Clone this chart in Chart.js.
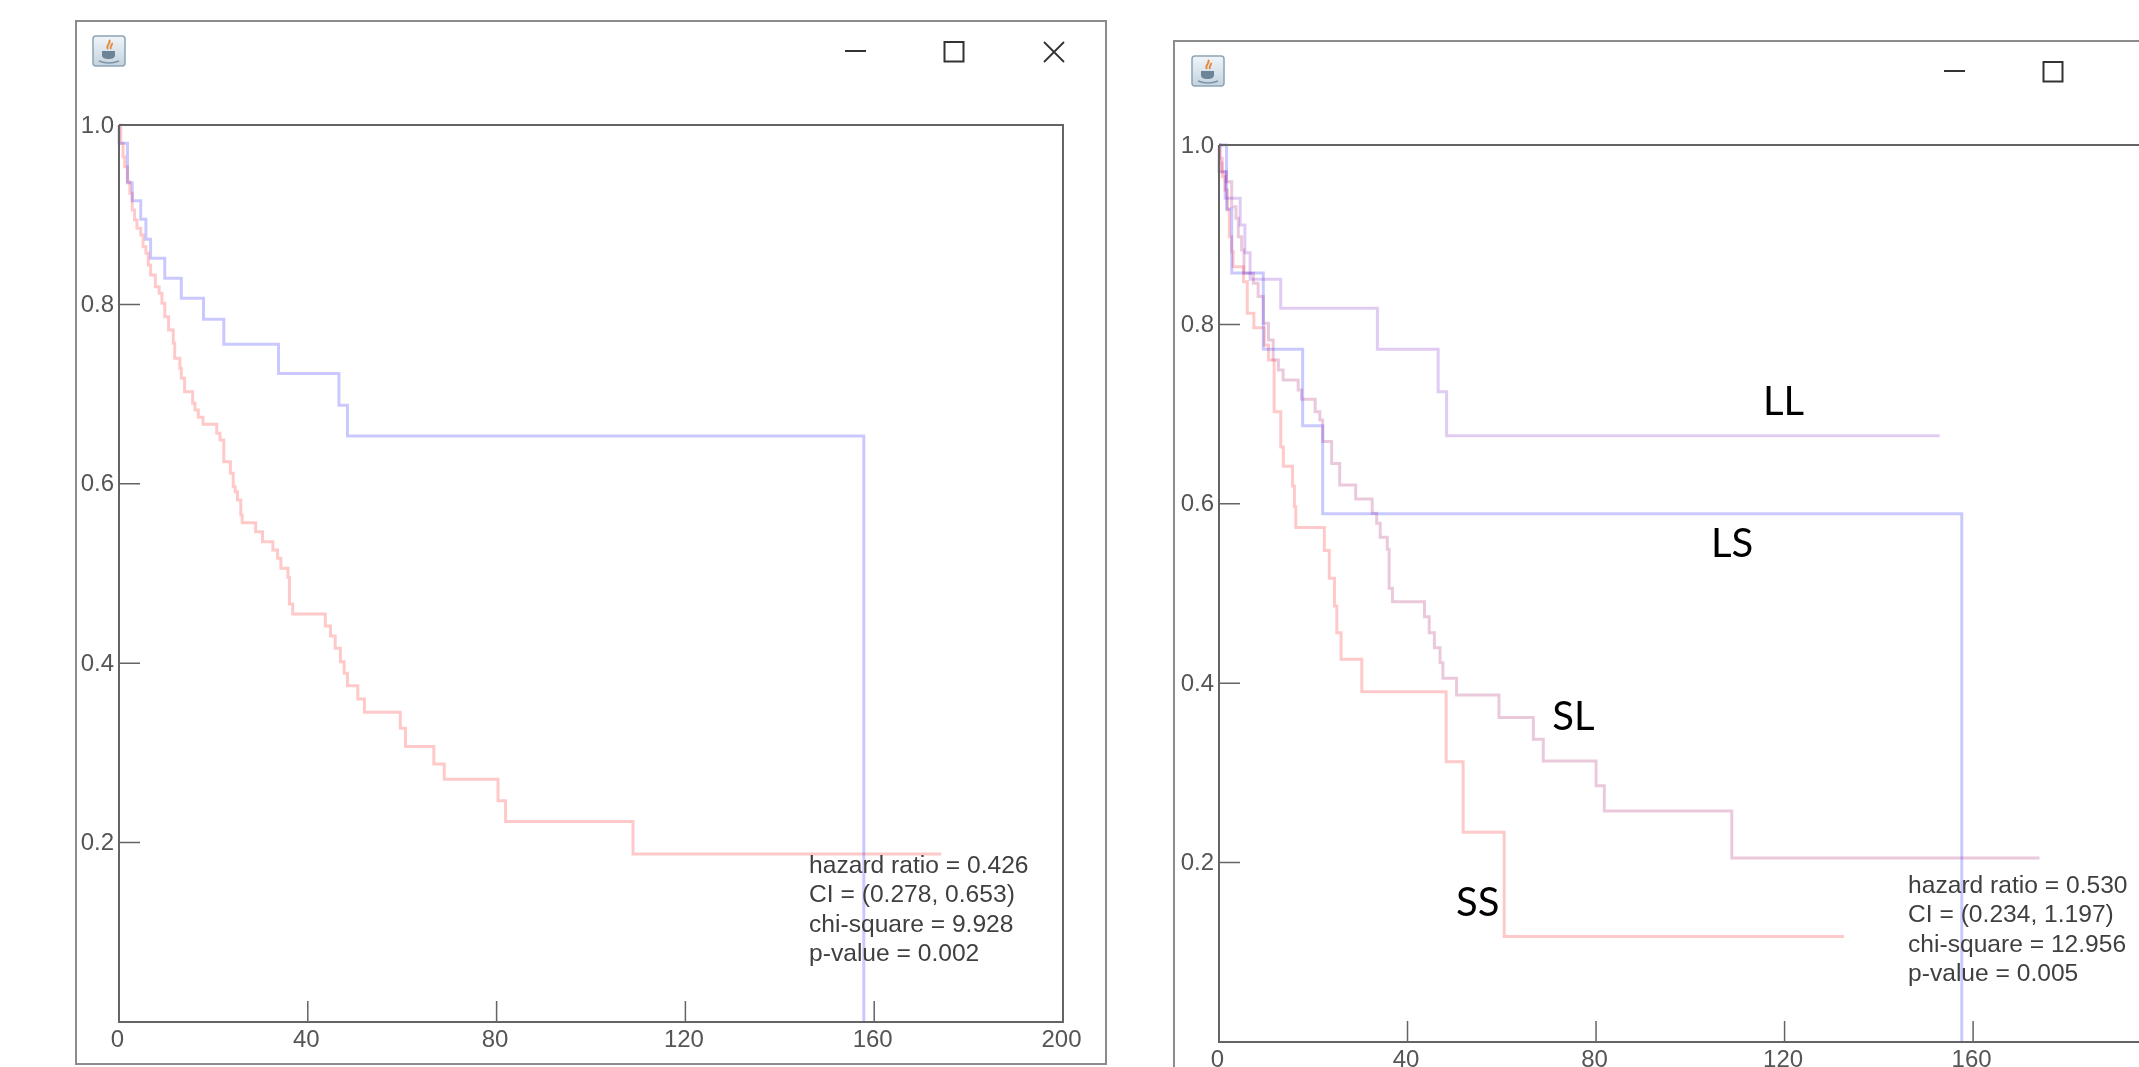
<!DOCTYPE html>
<html>
<head>
<meta charset="utf-8">
<title>Kaplan-Meier survival curves</title>
<script src="https://cdn.jsdelivr.net/npm/chart.js@4"></script>
<style>
html,body{margin:0;padding:0;background:#fff;width:2139px;height:1067px;overflow:hidden}
.win{position:absolute;border:2px solid #8c8c8c;box-sizing:border-box;background:#fff}
canvas{position:absolute;filter:blur(.45px)}
.ctl{position:absolute;overflow:visible}
</style>
</head>
<body>
<div class="win" style="left:75px;top:20px;width:1032px;height:1045px"></div>
<div class="win" style="left:1173px;top:40px;width:1000px;height:1060px"></div>
<svg class="ctl" style="left:92px;top:35px" width="34" height="32" viewBox="0 0 34 32"><use href="#javaIcon"/></svg>
<svg class="ctl" style="left:1191px;top:55px" width="34" height="32" viewBox="0 0 34 32">
  <defs>
    <linearGradient id="ig" x1="0" y1="0" x2="0" y2="1"><stop offset="0" stop-color="#f1f5f8"/><stop offset="1" stop-color="#c3d3df"/></linearGradient>
    <g id="javaIcon">
      <rect x="1" y="1" width="32" height="30" rx="3" fill="url(#ig)" stroke="#8da4b5" stroke-width="1.5"/>
      <path d="M17 5c3 3-4 5-1 9M20 8c1 2-3 3-1 6" stroke="#e58a3c" stroke-width="2" fill="none"/>
      <path d="M10 16h13v4c0 3-3 4-6.500 4s-6.500-1-6.500-4z" fill="#6d8496"/>
      <path d="M7 26c6 2.500 14 2.500 20 0" stroke="#7c93a5" stroke-width="1.500" fill="none"/>
    </g>
  </defs>
  <use href="#javaIcon"/>
</svg>
<svg class="ctl" style="left:0;top:0;pointer-events:none" width="2139" height="1067">
  <g stroke="#333" stroke-width="2" fill="none">
    <path d="M845 51H866" />
    <rect x="944.500" y="42" width="19" height="19.500"/>
    <path d="M1044 42L1064 62M1064 42L1044 62" stroke-width="1.800"/>
    <path d="M1944 71H1965" />
    <rect x="2043.500" y="62" width="19" height="19.500"/>
  </g>
</svg>
<canvas id="leftChart" width="1028" height="963" style="left:76px;top:100px"></canvas>
<canvas id="rightChart" width="964" height="947" style="left:1175px;top:120px"></canvas>
<script>
// Left panel: two groups
const leftBlueTime = [0,0,1.8,2.8,4.6,5.7,6.7,9.7,13.2,17.9,22.2,33.8,46.6,48.4,157.8];
const leftBlueSurv = [1,0.9796,0.9357,0.9156,0.8948,0.8725,0.8514,0.8291,0.8068,0.7834,0.7555,0.7231,0.6875,0.6533,0];
const leftRedTime = [0,0.35,0.85,1.2,1.8,2.3,2.8,3.3,3.8,4.6,5.1,5.7,6.2,6.7,7.7,8.5,9.1,9.7,10.5,11.5,11.8,12.9,13.2,13.9,15.6,16.1,16.8,17.8,20.7,21.4,22.2,23.6,24.2,24.6,25.1,25.8,26.1,28.95,30.4,32.6,33.6,34.3,35.8,36.1,36.8,43.7,44.8,45.8,46.9,47.7,48.4,50.6,52.0,59.6,60.7,66.7,68.9,80.3,81.9,108.9,174.2];
const leftRedSurv = [1,0.9796,0.9647,0.9535,0.9368,0.9238,0.9052,0.8941,0.8848,0.8774,0.8644,0.8569,0.8439,0.8328,0.8198,0.8123,0.8012,0.7863,0.7715,0.7566,0.7399,0.7287,0.7176,0.7027,0.6897,0.6823,0.6741,0.6663,0.6563,0.6488,0.6247,0.6117,0.5968,0.5912,0.5819,0.5652,0.5567,0.5466,0.5355,0.5262,0.5169,0.5058,0.4957,0.4660,0.4549,0.4415,0.4303,0.4166,0.4017,0.3887,0.3750,0.3601,0.3452,0.3274,0.3070,0.2876,0.2705,0.2467,0.2236,0.1873,0.1873];
// Right panel: four groups
const llTime = [0,0,1.3,4.5,5.5,6.6,13.1,33.6,46.5,48.3,152.9];
const llSurv = [1,0.9703,0.9405,0.9108,0.88,0.8502,0.8179,0.7722,0.725,0.6759,0.6759];
const lsTime = [0,1.6,2.7,9.4,17.75,22.0,157.6];
const lsSurv = [1,0.9286,0.8572,0.7722,0.687,0.589,0];
const slTime = [0,0.2,0.6,1.6,2.7,3.6,4.1,4.8,5.3,7.3,8.3,9.4,10.5,11.5,12.6,13.6,16.8,17.5,20.4,21.4,22.0,23.9,25.6,29.0,32.5,33.45,34.2,35.7,36.1,36.8,43.6,44.6,45.7,46.9,47.5,50.4,59.4,66.7,68.8,80.0,81.75,108.8,174.1];
const slSurv = [1,0.98,0.9703,0.9591,0.9312,0.9182,0.8978,0.8829,0.8569,0.8458,0.8310,0.8012,0.7826,0.7603,0.7491,0.7380,0.7269,0.7165,0.7027,0.6934,0.6694,0.645,0.6209,0.6053,0.5894,0.5782,0.5626,0.5492,0.5058,0.4909,0.4742,0.4563,0.4396,0.4229,0.4054,0.3868,0.3619,0.3374,0.3133,0.2857,0.2576,0.2051,0.2051];
const ssTime = [0,0.2,0.7,1.3,1.8,2.2,2.7,3.0,5.2,6.0,7.4,9.6,10.5,11.7,13.1,13.65,15.6,16.0,16.3,22.35,23.4,24.5,25.0,25.9,30.3,48.2,51.8,60.5,132.6];
const ssSurv = [1,0.9851,0.9647,0.9498,0.9275,0.8978,0.8811,0.8644,0.8476,0.8123,0.7964,0.7770,0.7603,0.7027,0.6634,0.6418,0.6198,0.5966,0.5737,0.5478,0.5169,0.4861,0.4563,0.4266,0.3906,0.3125,0.2337,0.1176,0.1176];
// Axis ticks
const leftXLabels = [0,40,80,120,160,200];
const rightXLabels = [0,40,80,120,160];
const yLabels = [0.2,0.4,0.6,0.8,1.0];
const xInnerTicks = [40,80,120,160];
const yInnerTicks = [0.2,0.4,0.6,0.8];
// Annotation text
const leftStats = ['hazard ratio = 0.426','CI = (0.278, 0.653)','chi-square = 9.928','p-value = 0.002'];
const rightStats = ['hazard ratio = 0.530','CI = (0.234, 1.197)','chi-square = 12.956','p-value = 0.005'];
const groupNames = ['LL','LS','SL','SS'];
const groupNameTime = [115.4,104.4,70.7,50.3];
const groupNameSurv = [0.699,0.5407,0.3478,0.1405];

const FONT = '"Liberation Sans", Arial, sans-serif';
const RED = 'rgba(255,0,0,0.21)', BLUE = 'rgba(0,0,255,0.21)';
const PURPLE = 'rgba(110,10,200,0.21)', MAUVE = 'rgba(170,20,110,0.23)';
const AXIS = '#646464';

const zip = (t, s) => t.map((v, i) => ({x: v, y: s[i]}));
const line = (label, t, s, color) => ({
  label, data: zip(t, s), borderColor: color, backgroundColor: color, borderWidth: 3,
  stepped: true, pointRadius: 0, fill: false, clip: false, tension: 0,
  borderCapStyle: 'butt', borderJoinStyle: 'miter'
});

const kmFrame = {
  id: 'kmFrame',
  afterDraw(chart, args, o) {
    const {ctx, chartArea: a, scales: {x, y}} = chart;
    ctx.save();
    ctx.strokeStyle = AXIS; ctx.lineWidth = 2;
    ctx.beginPath();
    ctx.moveTo(a.left, a.top); ctx.lineTo(a.left, a.bottom); ctx.lineTo(a.right, a.bottom);
    if (o.closed) { ctx.lineTo(a.right, a.top); ctx.lineTo(a.left, a.top); }
    else { ctx.moveTo(a.left, a.top); ctx.lineTo(a.right, a.top); }
    ctx.stroke();
    ctx.lineWidth = 1.5; ctx.beginPath();
    xInnerTicks.forEach(v => { const p = x.getPixelForValue(v); ctx.moveTo(p, a.bottom); ctx.lineTo(p, a.bottom - 21); });
    yInnerTicks.forEach(v => { const p = y.getPixelForValue(v); ctx.moveTo(a.left, p); ctx.lineTo(a.left + 21, p); });
    ctx.stroke();
    ctx.fillStyle = '#3f3f3f'; ctx.font = '24.6px ' + FONT; ctx.textAlign = 'left'; ctx.textBaseline = 'alphabetic';
    o.stats.forEach((s, i) => ctx.fillText(s, x.getPixelForValue(146.2), y.getPixelForValue(0.1661) + i * 29.4));
    if (o.names) {
      ctx.fillStyle = '#000'; ctx.font = '40px Lato, sans-serif';
      o.names.forEach((n, i) => ctx.fillText(n, x.getPixelForValue(groupNameTime[i]), y.getPixelForValue(groupNameSurv[i])));
    }
    ctx.restore();
  }
};

function build(id, datasets, xMax, xLabels, frame, pad, yW, xH) {
  return new Chart(document.getElementById(id), {
    type: 'line',
    data: {datasets},
    plugins: [kmFrame],
    options: {
      responsive: false, animation: false, parsing: true,
      layout: {padding: pad},
      plugins: {legend: {display: false}, tooltip: {enabled: false}, title: {display: false}, kmFrame: frame},
      scales: {
        x: {
          type: 'linear', min: 0, max: xMax,
          afterBuildTicks: s => { s.ticks = xLabels.map(v => ({value: v})); },
          afterFit: s => { s.height = xH; s.paddingLeft = 0; s.paddingRight = 0; },
          grid: {display: false, drawTicks: false, tickLength: 0}, border: {display: false},
          ticks: {autoSkip: false, maxRotation: 0, color: '#555', font: {size: 24, family: FONT}, padding: 4, labelOffset: -1.5, callback: v => String(v)}
        },
        y: {
          type: 'linear', min: 0, max: 1,
          afterBuildTicks: s => { s.ticks = yLabels.map(v => ({value: v})); },
          afterFit: s => { s.width = yW; s.paddingTop = 0; s.paddingBottom = 0; },
          grid: {display: false, drawTicks: false, tickLength: 0}, border: {display: false},
          ticks: {autoSkip: false, color: '#555', font: {size: 24, family: FONT}, padding: 5, labelOffset: 1, callback: v => Number(v).toFixed(1)}
        }
      }
    }
  });
}

build('leftChart',
  [line('Group 1', leftBlueTime, leftBlueSurv, BLUE), line('Group 2', leftRedTime, leftRedSurv, RED)],
  200, leftXLabels, {closed: true, stats: leftStats},
  {top: 25, right: 41, left: 0, bottom: 0}, 43, 41);

build('rightChart',
  [line('LL', llTime, llSurv, PURPLE), line('LS', lsTime, lsSurv, BLUE), line('SL', slTime, slSurv, MAUVE), line('SS', ssTime, ssSurv, RED)],
  195.2, rightXLabels, {closed: false, stats: rightStats, names: groupNames},
  {top: 25, right: 0, left: 0, bottom: 0}, 44, 25);
</script>
</body>
</html>
